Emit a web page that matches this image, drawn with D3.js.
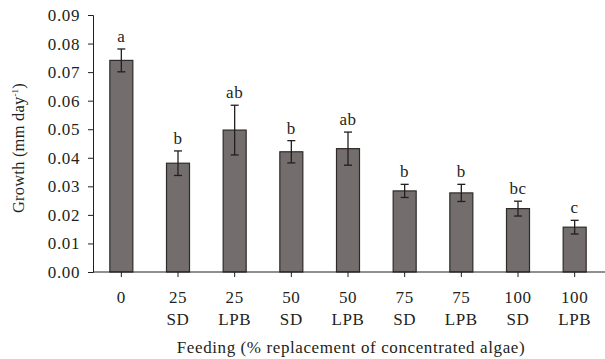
<!DOCTYPE html>
<html><head><meta charset="utf-8">
<script src="https://cdn.jsdelivr.net/npm/d3@7"></script>
<style>body{margin:0;background:#fff}svg{display:block}text{font-family:"Liberation Serif","DejaVu Serif",serif;fill:#231f20;letter-spacing:0.6px}</style>
</head><body><svg id="c" width="605" height="359"></svg>
<script>
const doses = ["0","25","25","50","50","75","75","100","100"];
const types = ["","SD","LPB","SD","LPB","SD","LPB","SD","LPB"];
const growth = [0.0741, 0.0381, 0.0497, 0.0421, 0.0432, 0.0284, 0.0277, 0.0222, 0.0157];
const errors = [0.0040, 0.0043, 0.0087, 0.0039, 0.0058, 0.0023, 0.0030, 0.0026, 0.0024];
const letters = ["a","b","ab","b","ab","b","b","bc","c"];
const yTicks = [0,0.01,0.02,0.03,0.04,0.05,0.06,0.07,0.08,0.09];

const FS = "17px";
const svg = d3.select("#c");
const m = {l:93, r:603, t:15, b:272};
const idx = d3.range(growth.length);
const xb = d3.scaleBand().domain(idx).range([m.l, m.r]);
const y = d3.scaleLinear().domain([0,0.09]).range([m.b, m.t]);

const ya = svg.append("g").attr("transform",`translate(${m.l},0)`)
  .call(d3.axisLeft(y).tickValues(yTicks).tickFormat(d3.format(".2f")).tickSize(5).tickPadding(8));
ya.attr("font-family",null);
ya.select(".domain").attr("stroke","#231f20");
ya.selectAll(".tick line").attr("stroke","#231f20");
ya.selectAll("text").style("font-size",FS).attr("fill","#231f20");

// bars
svg.selectAll("rect.bar").data(idx).join("rect")
  .attr("x", i => xb(i) + xb.bandwidth()/2 - 11.5)
  .attr("width", 23)
  .attr("y", i => y(growth[i]))
  .attr("height", i => y(0) - y(growth[i]))
  .attr("fill","#736e6d").attr("stroke","#2e2a2a").attr("stroke-width",1.2);

const xa = svg.append("g").attr("transform",`translate(0,${m.b})`)
  .call(d3.axisBottom(xb).tickSize(5).tickFormat(""));
xa.select(".domain").attr("stroke","#231f20").attr("d",`M${m.l},0H${m.r+2}`);
xa.selectAll(".tick line").attr("stroke","#231f20");

const cx = i => xb(i) + xb.bandwidth()/2;
// error bars
const eg = svg.append("g").attr("stroke","#231f20").attr("stroke-width",1.3);
idx.forEach(i => {
  const top = y(growth[i]+errors[i]), bot = y(growth[i]-errors[i]);
  eg.append("line").attr("x1",cx(i)).attr("x2",cx(i)).attr("y1",top).attr("y2",bot);
  eg.append("line").attr("x1",cx(i)-4).attr("x2",cx(i)+4).attr("y1",top).attr("y2",top);
  eg.append("line").attr("x1",cx(i)-4).attr("x2",cx(i)+4).attr("y1",bot).attr("y2",bot);
});
svg.selectAll("text.let").data(idx).join("text").attr("class","let")
  .attr("x", cx).attr("y", i => y(growth[i]+errors[i]) - 7)
  .attr("text-anchor","middle").attr("fill","#231f20").style("font-size",FS).text(i => letters[i]);

// x labels
svg.selectAll("text.d").data(idx).join("text").attr("class","d")
  .attr("x", cx).attr("y", 303).attr("text-anchor","middle").style("font-size",FS).text(i => doses[i]);
svg.selectAll("text.t").data(idx).join("text").attr("class","t")
  .attr("x", cx).attr("y", 325).attr("text-anchor","middle").style("font-size",FS).text(i => types[i]);

svg.append("text").attr("x", 351).attr("y", 353).attr("text-anchor","middle")
  .style("font-size",FS).text("Feeding (% replacement of concentrated algae)");

const yt = svg.append("text").attr("transform",`translate(24,148) rotate(-90)`)
  .attr("text-anchor","middle").style("font-size","16.5px").style("letter-spacing","0.2px");
yt.append("tspan").text("Growth (mm day");
yt.append("tspan").attr("dy",-6).style("font-size","9px").text("-1");
yt.append("tspan").attr("dy",6).text(")");
</script></body></html>
